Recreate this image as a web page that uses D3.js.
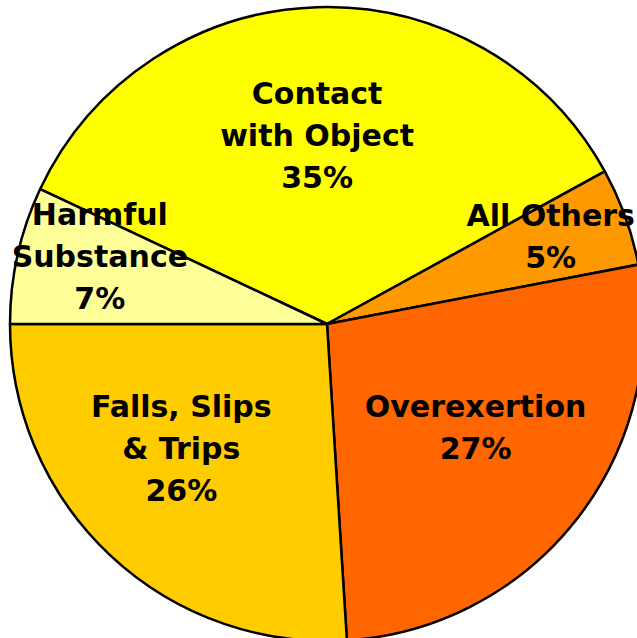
<!DOCTYPE html>
<html>
<head>
<meta charset="utf-8">
<script src="https://cdn.jsdelivr.net/npm/d3@7"></script>
<style>
  body { margin: 0; background: #fff; }
  svg text { font-family: "DejaVu Sans", sans-serif; font-weight: bold; fill: #000; }
</style>
</head>
<body>
<div id="canvas"></div>
<script>
// data
var categories = ["Contact|with Object", "All Others", "Overexertion", "Falls, Slips|& Trips", "Harmful|Substance"];
var values = [35, 5, 27, 26, 7];
var colors = ["#FFFF00", "#FF9900", "#FF6600", "#FFCC00", "#FFFF99"];

var w = 637, h = 638;
var cx = 327, cy = 324, r = 317;

var paper = d3.select("#canvas")
	.append("svg")
	.attr("width", w)
	.attr("height", h);

var rows = categories.map(function(c, i) { return {name: c, value: values[i], color: colors[i]}; });

// Harmful Substance ends at 9 o'clock, so Contact starts at 270 + 7% of the circle
var start = (-90 + 0.07 * 360) * Math.PI / 180;

var pie = d3.pie()
	.sort(null)
	.value(function(d) { return d.value; })
	.startAngle(start)
	.endAngle(start + 2 * Math.PI);

var arc = d3.arc().innerRadius(0).outerRadius(r);
var labelArc = d3.arc().innerRadius(0).outerRadius(2 * 188);
var smallArc = d3.arc().innerRadius(0).outerRadius(2 * 242);

// small hand nudges for the label blocks, like the original placement
var nudge = [[-4, 0], [-4, -5], [0, -11], [-17, -12], [9, -14]];

var g = paper.append("g").attr("transform", "translate(" + cx + "," + cy + ")");

var slices = pie(rows);

g.selectAll("path")
	.data(slices)
	.enter()
	.append("path")
	.attr("d", arc)
	.style("fill", function(d) { return d.data.color; })
	.style("stroke", "#000")
	.style("stroke-width", "2.5px")
	.style("stroke-linejoin", "round");

var lineH = 42;
var labels = g.selectAll("text.lbl")
	.data(slices)
	.enter()
	.append("text")
	.attr("class", "lbl")
	.attr("text-anchor", "middle")
	.style("font-size", "30px")
	.attr("transform", function(d, i) {
		var p = (d.data.value < 10 ? smallArc : labelArc).centroid(d);
		return "translate(" + (p[0] + nudge[i][0]) + "," + (p[1] + nudge[i][1]) + ")";
	});

labels.each(function(d) {
	var lines = d.data.name.split("|").concat([d.data.value + "%"]);
	var t = d3.select(this);
	var top = -(lines.length - 1) * lineH / 2 + 10;
	lines.forEach(function(s, i) {
		t.append("tspan")
			.attr("x", 0)
			.attr("y", top + i * lineH)
			.text(s);
	});
});
</script>
</body>
</html>
